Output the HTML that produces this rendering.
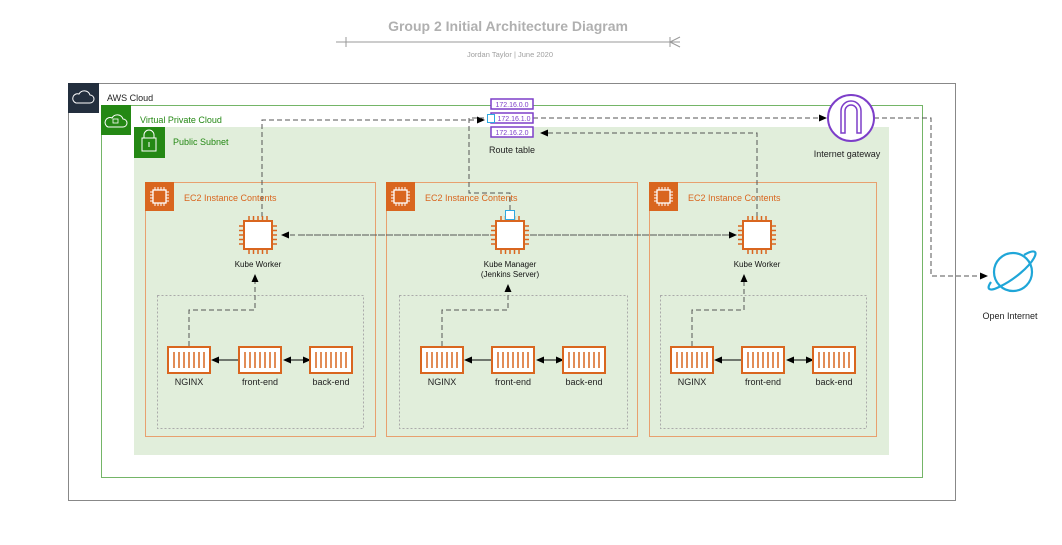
<!DOCTYPE html>
<html><head><style>body{margin:0;background:#fff}svg{display:block;font-family:"Liberation Sans",sans-serif}</style></head><body>
<svg width="1062" height="545" viewBox="0 0 1062 545">
<defs>
<marker id="a" markerWidth="8" markerHeight="8" refX="7" refY="4" orient="auto" markerUnits="userSpaceOnUse"><path d="M0,0.5 L8,4 L0,7.5z" fill="#000"/></marker>
<g id="chip"><rect x="-14" y="-14" width="28" height="28" fill="#fff" stroke="#d9661f" stroke-width="2"/>
<g stroke="#d9661f" stroke-width="1.5"><path d="M-9,-14v-5M-4.5,-14v-5M0,-14v-5M4.5,-14v-5M9,-14v-5M-9,14v5M-4.5,14v5M0,14v5M4.5,14v5M9,14v5M-14,-9h-5M-14,-4.5h-5M-14,0h-5M-14,4.5h-5M-14,9h-5M14,-9h5M14,-4.5h5M14,0h5M14,4.5h5M14,9h5"/></g></g>
<g id="ctr"><rect x="-21" y="-13" width="42" height="26" fill="#fff" stroke="#d9661f" stroke-width="2"/><path d="M-15,-8v16M-10,-8v16M-5,-8v16M0,-8v16M5,-8v16M10,-8v16M15,-8v16" stroke="#d9661f" stroke-width="1.5"/></g>
<g id="ec2i"><rect width="29" height="29" fill="#d9661f"/><rect x="8" y="8" width="13" height="13" fill="none" stroke="#fff" stroke-width="1.3"/><path d="M10,8v-3M13,8v-3M16,8v-3M19,8v-3M10,21v3M13,21v3M16,21v3M19,21v3M8,10h-3M8,13h-3M8,16h-3M8,19h-3M21,10h3M21,13h3M21,16h3M21,19h3" stroke="#fff" stroke-width="1"/></g>
</defs>
<text x="508" y="31" text-anchor="middle" font-size="14" font-weight="bold" fill="#b0b0b0">Group 2 Initial Architecture Diagram</text>
<path d="M336,42H680M346,37v10M670,37v10M680,37l-10,5l10,5" stroke="#999" fill="none"/>
<text x="510" y="57" text-anchor="middle" font-size="7.5" fill="#a0a0a0">Jordan Taylor  |  June 2020</text>
<rect x="68.5" y="83.5" width="887" height="417" fill="none" stroke="#888"/>
<rect x="68" y="83" width="31" height="30" fill="#232f3e"/>
<path d="M76,103h14a4,4 0 0 0 0,-8a6,6 0 0 0 -11,-1a4,4 0 0 0 -3,9z" fill="none" stroke="#fff"/>
<text x="107" y="101" font-size="9" fill="#222">AWS Cloud</text>
<rect x="101.5" y="105.5" width="821" height="372" fill="none" stroke="#74b567"/>
<rect x="101" y="105" width="30" height="30" fill="#248814"/>
<path d="M108,127h15a4,4 0 0 0 0,-8a6,6 0 0 0 -11,-1a4,4 0 0 0 -4,9z" fill="none" stroke="#fff"/><rect x="113" y="119" width="5" height="4" fill="none" stroke="#fff" stroke-width=".8"/>
<text x="140" y="123" font-size="9" fill="#248814">Virtual Private Cloud</text>
<rect x="134" y="127" width="755" height="328" fill="#e1eedb"/>
<rect x="134" y="127" width="31" height="31" fill="#248814"/>
<rect x="142" y="138" width="14" height="13" fill="none" stroke="#fff"/><path d="M144,138v-3a5,5 0 0 1 10,0v3M149,142v5" fill="none" stroke="#fff"/>
<text x="173" y="145" font-size="9" fill="#248814">Public Subnet</text>
<g fill="none" stroke="#e8a06f"><rect x="145.5" y="182.5" width="230" height="254"/><rect x="386.5" y="182.5" width="251" height="254"/><rect x="649.5" y="182.5" width="227" height="254"/></g>
<use href="#ec2i" x="145" y="182"/><use href="#ec2i" x="386" y="182"/><use href="#ec2i" x="649" y="182"/>
<g font-size="9" fill="#d9661f"><text x="184" y="201">EC2 Instance Contents</text><text x="425" y="201">EC2 Instance Contents</text><text x="688" y="201">EC2 Instance Contents</text></g>
<g fill="none" stroke="#aaa" stroke-dasharray="2,2"><rect x="157.5" y="295.5" width="206" height="133"/><rect x="399.5" y="295.5" width="228" height="133"/><rect x="660.5" y="295.5" width="206" height="133"/></g>
<g fill="none" stroke="#555" stroke-dasharray="5,3">
<path d="M262,217V120H484" marker-end="url(#a)"/>
<path d="M510,210V193H469V118H484"/>
<path d="M757,217V133H541" marker-end="url(#a)"/>
<path d="M533,118H826" marker-end="url(#a)"/>
<path d="M874,118H931V276H987" marker-end="url(#a)"/>
<path d="M735,235H282" marker-end="url(#a)"/><path d="M300,235H736" marker-end="url(#a)"/>
<path d="M189,346V310H255V275" marker-end="url(#a)"/>
<path d="M442,346V310H508V285" marker-end="url(#a)"/>
<path d="M692,346V310H744V275" marker-end="url(#a)"/>
</g>
<g stroke="#000" fill="none">
<path d="M239,360H212" marker-end="url(#a)"/><path d="M300,360H284" marker-end="url(#a)"/><path d="M290,360H310" marker-end="url(#a)"/>
<path d="M492,360H465" marker-end="url(#a)"/><path d="M553,360H537" marker-end="url(#a)"/><path d="M543,360H563" marker-end="url(#a)"/>
<path d="M742,360H715" marker-end="url(#a)"/><path d="M803,360H787" marker-end="url(#a)"/><path d="M793,360H813" marker-end="url(#a)"/>
</g>
<use href="#chip" x="258" y="235"/><use href="#chip" x="510" y="235"/><use href="#chip" x="757" y="235"/>
<rect x="505.5" y="210.5" width="9" height="9" fill="#fff" stroke="#2fa8e0"/>
<g font-size="8" fill="#111" text-anchor="middle"><text x="258" y="267">Kube Worker</text><text x="510" y="267">Kube Manager</text><text x="510" y="277">(Jenkins Server)</text><text x="757" y="267">Kube Worker</text></g>
<use href="#ctr" x="189" y="360"/><use href="#ctr" x="260" y="360"/><use href="#ctr" x="331" y="360"/>
<use href="#ctr" x="442" y="360"/><use href="#ctr" x="513" y="360"/><use href="#ctr" x="584" y="360"/>
<use href="#ctr" x="692" y="360"/><use href="#ctr" x="763" y="360"/><use href="#ctr" x="834" y="360"/>
<g font-size="9" fill="#222" text-anchor="middle">
<text x="189" y="385">NGINX</text><text x="260" y="385">front-end</text><text x="331" y="385">back-end</text>
<text x="442" y="385">NGINX</text><text x="513" y="385">front-end</text><text x="584" y="385">back-end</text>
<text x="692" y="385">NGINX</text><text x="763" y="385">front-end</text><text x="834" y="385">back-end</text>
<text x="512" y="153">Route table</text><text x="847" y="157">Internet gateway</text><text x="1010" y="319">Open Internet</text></g>
<g fill="#fff" stroke="#7d3ec9" stroke-width="1.5"><rect x="491" y="99" width="42" height="10"/><rect x="491" y="113" width="42" height="10"/><rect x="491" y="127" width="42" height="10"/></g>
<g font-size="7" fill="#7d3ec9" text-anchor="middle"><text x="512" y="107">172.16.0.0</text><text x="514" y="121">172.16.1.0</text><text x="512" y="135">172.16.2.0</text></g>
<rect x="487.5" y="114.5" width="7" height="8" fill="#fff" stroke="#2fa8e0"/>
<circle cx="851" cy="118" r="23" fill="#fff" stroke="#7d3ec9" stroke-width="2"/>
<path d="M841,133V111a10,10 0 0 1 20,0v22h-4V111a6,6 0 0 0 -12,0v22z" fill="none" stroke="#7d3ec9" stroke-width="1.5"/>
<circle cx="1013" cy="272" r="19" fill="none" stroke="#1fa6d8" stroke-width="2.2"/>
<path d="M1024,255c10,-6 14,-4 10,3c-5,9 -20,22 -35,29c-10,5 -13,2 -8,-5" fill="none" stroke="#1fa6d8" stroke-width="2.2"/>
</svg>
</body></html>
